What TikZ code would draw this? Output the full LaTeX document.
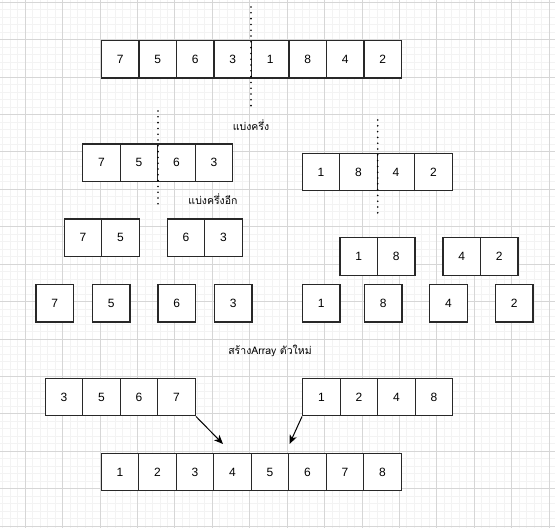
\documentclass[tikz,border=0pt]{standalone}
\usepackage{fontspec}
\setmainfont{Liberation Sans}
\newfontfamily\thaifont[Script=Thai]{Loma}
\usetikzlibrary{arrows.meta}

\definecolor{gridminor}{RGB}{243,243,243}
\definecolor{gridmajor}{RGB}{214,214,214}
\definecolor{boxline}{RGB}{40,40,40}

% a row of array cells: name prefix, left x, top y, values
\newcommand\cellrow[4]{%
  \foreach \v [count=\k] in {#4} {%
    \node[cell] (#1\k) at ({#2+37.5*(\k-0.5)},{#3+18.75}) {\v};
  }%
}

\begin{document}
\begin{tikzpicture}[x=1pt,y=-1pt,
  cell/.style={draw=boxline, line width=1.3pt, fill=white, minimum size=37.5pt,
    inner sep=0pt, font=\fontsize{12}{12}\selectfont},
  label/.style={font=\thaifont\fontsize{10.5}{12}\selectfont, inner sep=1pt},
  dotline/.style={draw=black, line width=1.8pt, line cap=round,
    dash pattern=on 0pt off 5.8pt},
  arrowline/.style={draw=black, line width=1pt,
    -{Stealth[length=9pt,width=7.5pt,inset=2.5pt]}}]

% canvas and background grid
\fill[white] (0,0) rectangle (555,528);
\useasboundingbox (0,0) rectangle (555,528);
\foreach \i in {0,...,74} {
  \draw[gridminor, line width=1pt] ({25.3+7.484*(\i-3)},0) -- ++(0,528);
}
\foreach \j in {-1,...,70} {
  \draw[gridminor, line width=1pt] (0,{2.3+7.484*\j}) -- ++(555,0);
}
\foreach \i in {-1,...,14} {
  \draw[gridmajor, line width=1pt] ({25.3+37.42*\i},0) -- ++(0,528);
}
\foreach \j in {0,...,14} {
  \draw[gridmajor, line width=1pt] (0,{2.3+37.42*\j}) -- ++(555,0);
}

% the unsorted array
\cellrow{top}{101.5}{40.5}{7,5,6,3,1,8,4,2}

% first split
\cellrow{la}{82.7}{144}{7,5,6,3}
\cellrow{ra}{302.3}{153.3}{1,8,4,2}

% second split
\cellrow{lb}{64.3}{219}{7,5}
\cellrow{lc}{167.3}{219}{6,3}
\cellrow{rb}{340}{237.7}{1,8}
\cellrow{rc}{443}{237.7}{4,2}

% single elements
\node[cell] (s1) at (54.8,303.2) {7};
\node[cell] (s2) at (111.1,303.2) {5};
\node[cell] (s3) at (176.8,303.2) {6};
\node[cell] (s4) at (233.1,303.2) {3};
\node[cell] (s5) at (321.1,303.2) {1};
\node[cell] (s6) at (383.1,303.2) {8};
\node[cell] (s7) at (448.5,303.2) {4};
\node[cell] (s8) at (514.1,303.2) {2};

% sorted halves and merged result
\cellrow{sl}{45.3}{378.3}{3,5,6,7}
\cellrow{sr}{302.7}{378.3}{1,2,4,8}
\cellrow{fin}{101.3}{453.3}{1,2,3,4,5,6,7,8}

% split markers
\coordinate (d1a) at (251,7);    \coordinate (d1b) at (251,106);
\coordinate (d2a) at (158,111);  \coordinate (d2b) at (158,209);
\coordinate (d3a) at (377.7,120);\coordinate (d3b) at (377.7,218);
\draw[dotline] (d1a) -- (d1b);
\draw[dotline] (d2a) -- (d2b);
\draw[dotline] (d3a) -- (d3b);

% captions
\node[label] (t1) at (251,125) {แบ่งครึ่ง};
\node[label] (t2) at (213,199) {แบ่งครึ่งอีก};
\node[label] (t3) at (270,351) {สร้างArray ตัวใหม่};

% merge arrows
\coordinate (m1) at (223,444);
\coordinate (m2) at (289.5,444);
\draw[arrowline] (sl4.south east) -- (m1);
\draw[arrowline] (sr1.south west) -- (m2);
\end{tikzpicture}
\end{document}
